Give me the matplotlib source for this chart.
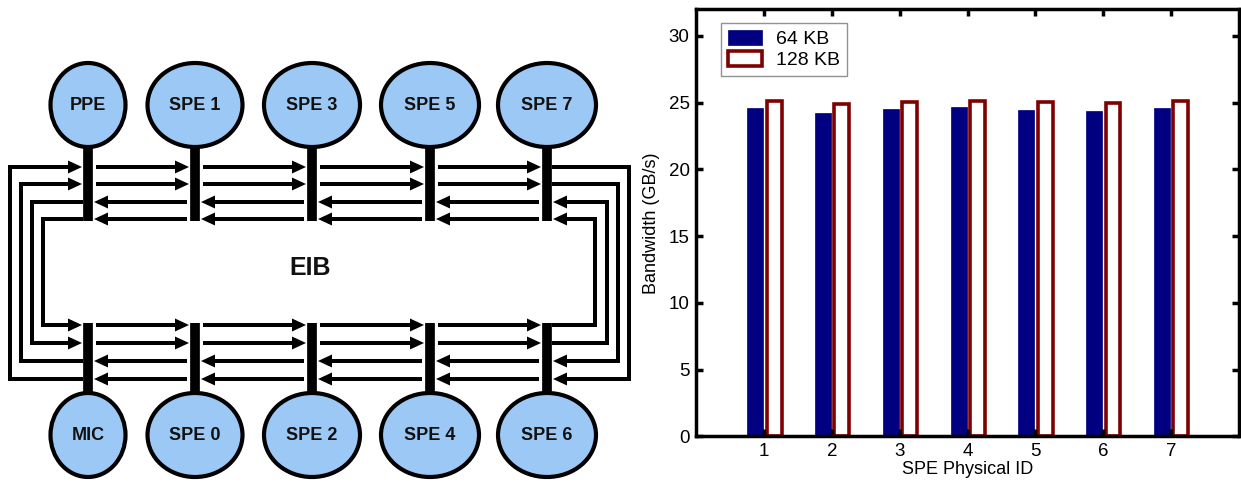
import matplotlib
matplotlib.use('Agg')
import matplotlib.pyplot as plt
from matplotlib.patches import Ellipse

plt.rcParams['font.family'] = ['Liberation Sans', 'DejaVu Sans']

# ---- bar chart data ----
spe_ids = [1, 2, 3, 4, 5, 6, 7]
bw_64kb = [24.6, 24.2, 24.5, 24.7, 24.45, 24.4, 24.6]
bw_128kb = [25.1, 24.9, 25.05, 25.1, 25.05, 25.0, 25.1]
yticks = [0, 5, 10, 15, 20, 25, 30]

# ---- EIB ring diagram (pixel layout) ----
top_nodes = ['PPE', 'SPE 1', 'SPE 3', 'SPE 5', 'SPE 7']
bottom_nodes = ['MIC', 'SPE 0', 'SPE 2', 'SPE 4', 'SPE 6']
node_x = [88, 195, 312, 430, 547]
node_w = [75, 95, 96, 98, 98]
top_rows = [167, 184, 202, 219]      # right, right, left, left
bottom_rows = [325, 343, 361, 379]   # right, right, left, left
left_x = [10, 21, 32, 43]
right_x = [629, 618, 607, 595]

fig = plt.figure(figsize=(12.41, 4.83), dpi=100)

# ================= diagram =================
ax0 = fig.add_axes([0, 0, 640 / 1241, 1])
ax0.set_xlim(0, 640)
ax0.set_ylim(483, 0)
ax0.axis('off')

LW = 4 * 0.72
fill = '#9cc8f5'


def arrow(x0, x1, y):
    ax0.arrow(x0, y, x1 - x0, 0, width=4, head_width=13, head_length=14,
              length_includes_head=True, color='k', lw=0)


def line(xs, ys, lw=LW):
    ax0.plot(xs, ys, color='k', lw=lw, solid_joinstyle='miter',
             solid_capstyle='butt')


for i, x in enumerate(node_x):
    w = node_w[i]
    # stems
    line([x, x], [146, 221], lw=7)
    line([x, x], [323, 394], lw=7)
    ax0.add_patch(Ellipse((x, 105), w, 84, facecolor=fill, edgecolor='k', lw=3))
    ax0.add_patch(Ellipse((x, 435), w, 84, facecolor=fill, edgecolor='k', lw=3))
    ax0.text(x, 105, top_nodes[i], ha='center', va='center', fontsize=13,
             fontweight='bold', color='#111111')
    ax0.text(x, 435, bottom_nodes[i], ha='center', va='center', fontsize=13,
             fontweight='bold', color='#111111')

# arrows between neighbouring stems
for a, b in zip(node_x[:-1], node_x[1:]):
    for y in top_rows[:2] + bottom_rows[:2]:
        arrow(a + 8, b - 6, y)
    for y in top_rows[2:] + bottom_rows[2:]:
        arrow(b - 8, a + 6, y)

# left wrap-around
xs0 = node_x[0]
line([xs0 - 5, left_x[0], left_x[0], xs0 - 20], [bottom_rows[3], bottom_rows[3], top_rows[0], top_rows[0]])
arrow(xs0 - 22, xs0 - 6, top_rows[0])
line([xs0 - 5, left_x[1], left_x[1], xs0 - 20], [bottom_rows[2], bottom_rows[2], top_rows[1], top_rows[1]])
arrow(xs0 - 22, xs0 - 6, top_rows[1])
line([xs0 - 5, left_x[2], left_x[2], xs0 - 20], [top_rows[2], top_rows[2], bottom_rows[1], bottom_rows[1]])
arrow(xs0 - 22, xs0 - 6, bottom_rows[1])
line([xs0 - 5, left_x[3], left_x[3], xs0 - 20], [top_rows[3], top_rows[3], bottom_rows[0], bottom_rows[0]])
arrow(xs0 - 22, xs0 - 6, bottom_rows[0])

# right wrap-around
xs1 = node_x[-1]
line([xs1 + 5, right_x[0], right_x[0], xs1 + 20], [top_rows[0], top_rows[0], bottom_rows[3], bottom_rows[3]])
arrow(xs1 + 22, xs1 + 6, bottom_rows[3])
line([xs1 + 5, right_x[1], right_x[1], xs1 + 20], [top_rows[1], top_rows[1], bottom_rows[2], bottom_rows[2]])
arrow(xs1 + 22, xs1 + 6, bottom_rows[2])
line([xs1 + 5, right_x[2], right_x[2], xs1 + 20], [bottom_rows[1], bottom_rows[1], top_rows[2], top_rows[2]])
arrow(xs1 + 22, xs1 + 6, top_rows[2])
line([xs1 + 5, right_x[3], right_x[3], xs1 + 20], [bottom_rows[0], bottom_rows[0], top_rows[3], top_rows[3]])
arrow(xs1 + 22, xs1 + 6, top_rows[3])

ax0.text(310, 268, 'EIB', ha='center', va='center', fontsize=18,
         fontweight='bold', color='#111111')

# ================= bar chart =================
ax = fig.add_axes([0.5612, 0.0963, 0.437, 0.8847])
blue = [x - 0.25 for x in spe_ids]
red = [x + 0.035 for x in spe_ids]
ax.bar(blue, bw_64kb, width=0.235, align='edge', color='#000080',
       edgecolor='#000080', lw=0.5, label='64 KB')
ax.bar(red, bw_128kb, width=0.22, align='edge', color='white',
       edgecolor='#800000', lw=2.6, label='128 KB')
ax.set_xlim(0, 8)
ax.set_ylim(0, 32)
ax.set_xticks(spe_ids)
ax.set_yticks(yticks)
ax.tick_params(direction='in', length=5, width=2.5, labelsize=13.5,
               top=True, right=True, pad=5)
for s in ax.spines.values():
    s.set_linewidth(2.5)
ax.set_xlabel('SPE Physical ID', fontsize=13)
ax.set_ylabel('Bandwidth (GB/s)', fontsize=13)
ax.yaxis.set_label_coords(-0.067, 0.5)
ax.xaxis.set_label_coords(0.5, -0.057)
leg = ax.legend(loc='upper left', bbox_to_anchor=(0.045, 0.968), fontsize=14,
                fancybox=False, borderaxespad=0, handlelength=1.75,
                handleheight=0.8, borderpad=0.35, labelspacing=0.15,
                handletextpad=0.75)
leg.get_frame().set_edgecolor('#777777')
leg.get_frame().set_linewidth(1)

fig.savefig('out.png', dpi=100)
